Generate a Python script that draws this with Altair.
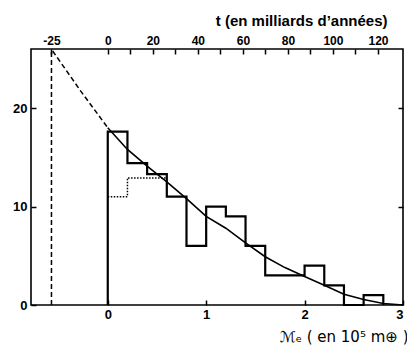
import altair as alt
import pandas as pd

# ---- data ----
# model curve (mass in 10^5 earth masses, number)
curve_m = [-0.56, -0.28, 0.0, 0.2, 0.4, 0.6, 0.8, 1.0, 1.2, 1.4, 1.6, 1.8, 2.0, 2.2, 2.4, 2.6, 2.8, 3.0]
curve_n = [25.8, 21.8, 18.0, 15.8, 14.1, 12.5, 10.8, 9.0, 7.8, 6.3, 4.9, 3.8, 2.9, 2.0, 1.1, 0.55, 0.15, 0.0]
curve_solid_from = 0.0  # curve dashed before this mass, solid after

# observed histogram (solid)
hist_left = [0.0, 0.2, 0.4, 0.6, 0.8, 1.0, 1.2, 1.4, 1.6, 1.8, 2.0, 2.2, 2.4, 2.6]
hist_counts = [17.6, 14.4, 13.3, 11.0, 6.0, 10.0, 9.0, 6.0, 3.0, 3.0, 4.0, 2.0, 0.0, 1.0]
hist_width = 0.2

# dotted variant of the first bins
dotted_left = [0.0, 0.2, 0.6]
dotted_counts = [11.0, 12.9, 12.9]

# time axis (milliards d'années)
t_origin = [-25]
t_ticks = [-25, 0, 10, 20, 30, 40, 50, 60, 70, 80, 90, 100, 110, 120]
t_per_mass = 43.7

m_domain = [-0.78, 3.0]
y_domain = [0, 26]
m_ticks = [0, 1, 2, 3]
y_ticks = [0, 10, 20]
y_ticks_right = [10, 20]

# ---- tables ----
curve = pd.DataFrame({"m": curve_m, "n": curve_n})
curve_dash = curve[curve["m"] <= curve_solid_from]
curve_solid = curve[curve["m"] >= curve_solid_from]

hx = [hist_left[0]] + hist_left + [hist_left[-1] + hist_width]
hy = [0.0] + hist_counts + [0.0]
hist = pd.DataFrame({"m": hx, "n": hy, "i": list(range(len(hx)))})
dotted = pd.DataFrame({"m": dotted_left, "n": dotted_counts, "i": list(range(len(dotted_left)))})
vline = pd.DataFrame({"t": t_origin, "y0": [y_domain[0]], "y1": [y_domain[1]]})

LBL = "Liberation Sans"
xs = alt.Scale(domain=m_domain, nice=False, zero=False)
ys = alt.Scale(domain=y_domain, nice=False, zero=False)

x_bottom = alt.Axis(orient="bottom", values=m_ticks, format="d", tickSize=5, offset=-5,
                    domain=False, grid=False, tickColor="black", tickWidth=1.5,
                    labelFont=LBL, labelFontSize=13, labelFontWeight="bold", labelColor="black",
                    labelPadding=3,
                    title="ℳₑ ( en 10⁵ m⊕ )", titleFont="DejaVu Sans", titleFontSize=15,
                    titleFontWeight="normal", titleColor="black", titleAlign="right",
                    titleAnchor="start", titleX=377, titleY=41, titleBaseline="alphabetic")
y_left = alt.Axis(orient="left", values=y_ticks, format="d", tickSize=5, offset=-5,
                  domain=False, grid=False, tickColor="black", tickWidth=1.5,
                  labelFont=LBL, labelFontSize=13, labelFontWeight="bold", labelColor="black",
                  labelPadding=4, title=None)

dash_curve = alt.Chart(curve_dash).mark_line(color="black", strokeWidth=1.5, strokeDash=[5, 3]).encode(
    x=alt.X("m:Q", scale=xs, axis=x_bottom),
    y=alt.Y("n:Q", scale=ys, axis=y_left),
)
solid_curve = alt.Chart(curve_solid).mark_line(color="black", strokeWidth=1.6).encode(
    x=alt.X("m:Q", scale=xs, axis=None),
    y=alt.Y("n:Q", scale=ys, axis=None),
)
hist_line = alt.Chart(hist).mark_line(color="black", strokeWidth=2.2, interpolate="step-after").encode(
    x=alt.X("m:Q", scale=xs, axis=None),
    y=alt.Y("n:Q", scale=ys, axis=None),
    order=alt.Order("i:Q"),
)
dot_line = alt.Chart(dotted).mark_line(color="black", strokeWidth=1.5, strokeDash=[1.5, 1.5],
                                       interpolate="step-after").encode(
    x=alt.X("m:Q", scale=xs, axis=None),
    y=alt.Y("n:Q", scale=ys, axis=None),
    order=alt.Order("i:Q"),
)

t_scale = alt.Scale(domain=[m_domain[0] * t_per_mass, m_domain[1] * t_per_mass], nice=False, zero=False)
x_top = alt.Axis(orient="top", values=t_ticks, tickSize=5, offset=-5, domain=False, grid=False,
                 tickColor="black", tickWidth=1.5,
                 labelExpr="datum.value == -25 ? '-25' : (datum.value % 20 == 0 ? datum.label : '')",
                 labelFont=LBL, labelFontSize=12, labelFontWeight="bold", labelColor="black",
                 labelPadding=2,
                 title="t (en milliards d’années)", titleFont=LBL, titleFontSize=15,
                 titleFontWeight="bold", titleColor="black", titleAlign="right",
                 titleAnchor="start", titleX=356, titleY=-29, titleBaseline="alphabetic")
y_right = alt.Axis(orient="right", values=y_ticks_right, tickSize=5, offset=-5, domain=False,
                   grid=False, labels=False, tickColor="black", tickWidth=1.5, title=None)

v_rule = alt.Chart(vline).mark_rule(color="black", strokeWidth=1.5, strokeDash=[5, 3]).encode(
    x=alt.X("t:Q", scale=t_scale, axis=x_top),
    y=alt.Y("y0:Q", scale=ys, axis=y_right),
    y2="y1:Q",
)

chart = alt.layer(dash_curve, solid_curve, hist_line, dot_line, v_rule).resolve_scale(
    x="independent", y="independent"
).properties(
    width=372, height=256,
    padding={"left": 23, "top": 41, "right": 4, "bottom": 40},
    autosize=alt.AutoSizeParams(type="none"),
    background="white",
).configure_view(stroke="black", strokeWidth=1.6)

chart.save("out.html", embed_options={"renderer": "svg", "actions": False})
